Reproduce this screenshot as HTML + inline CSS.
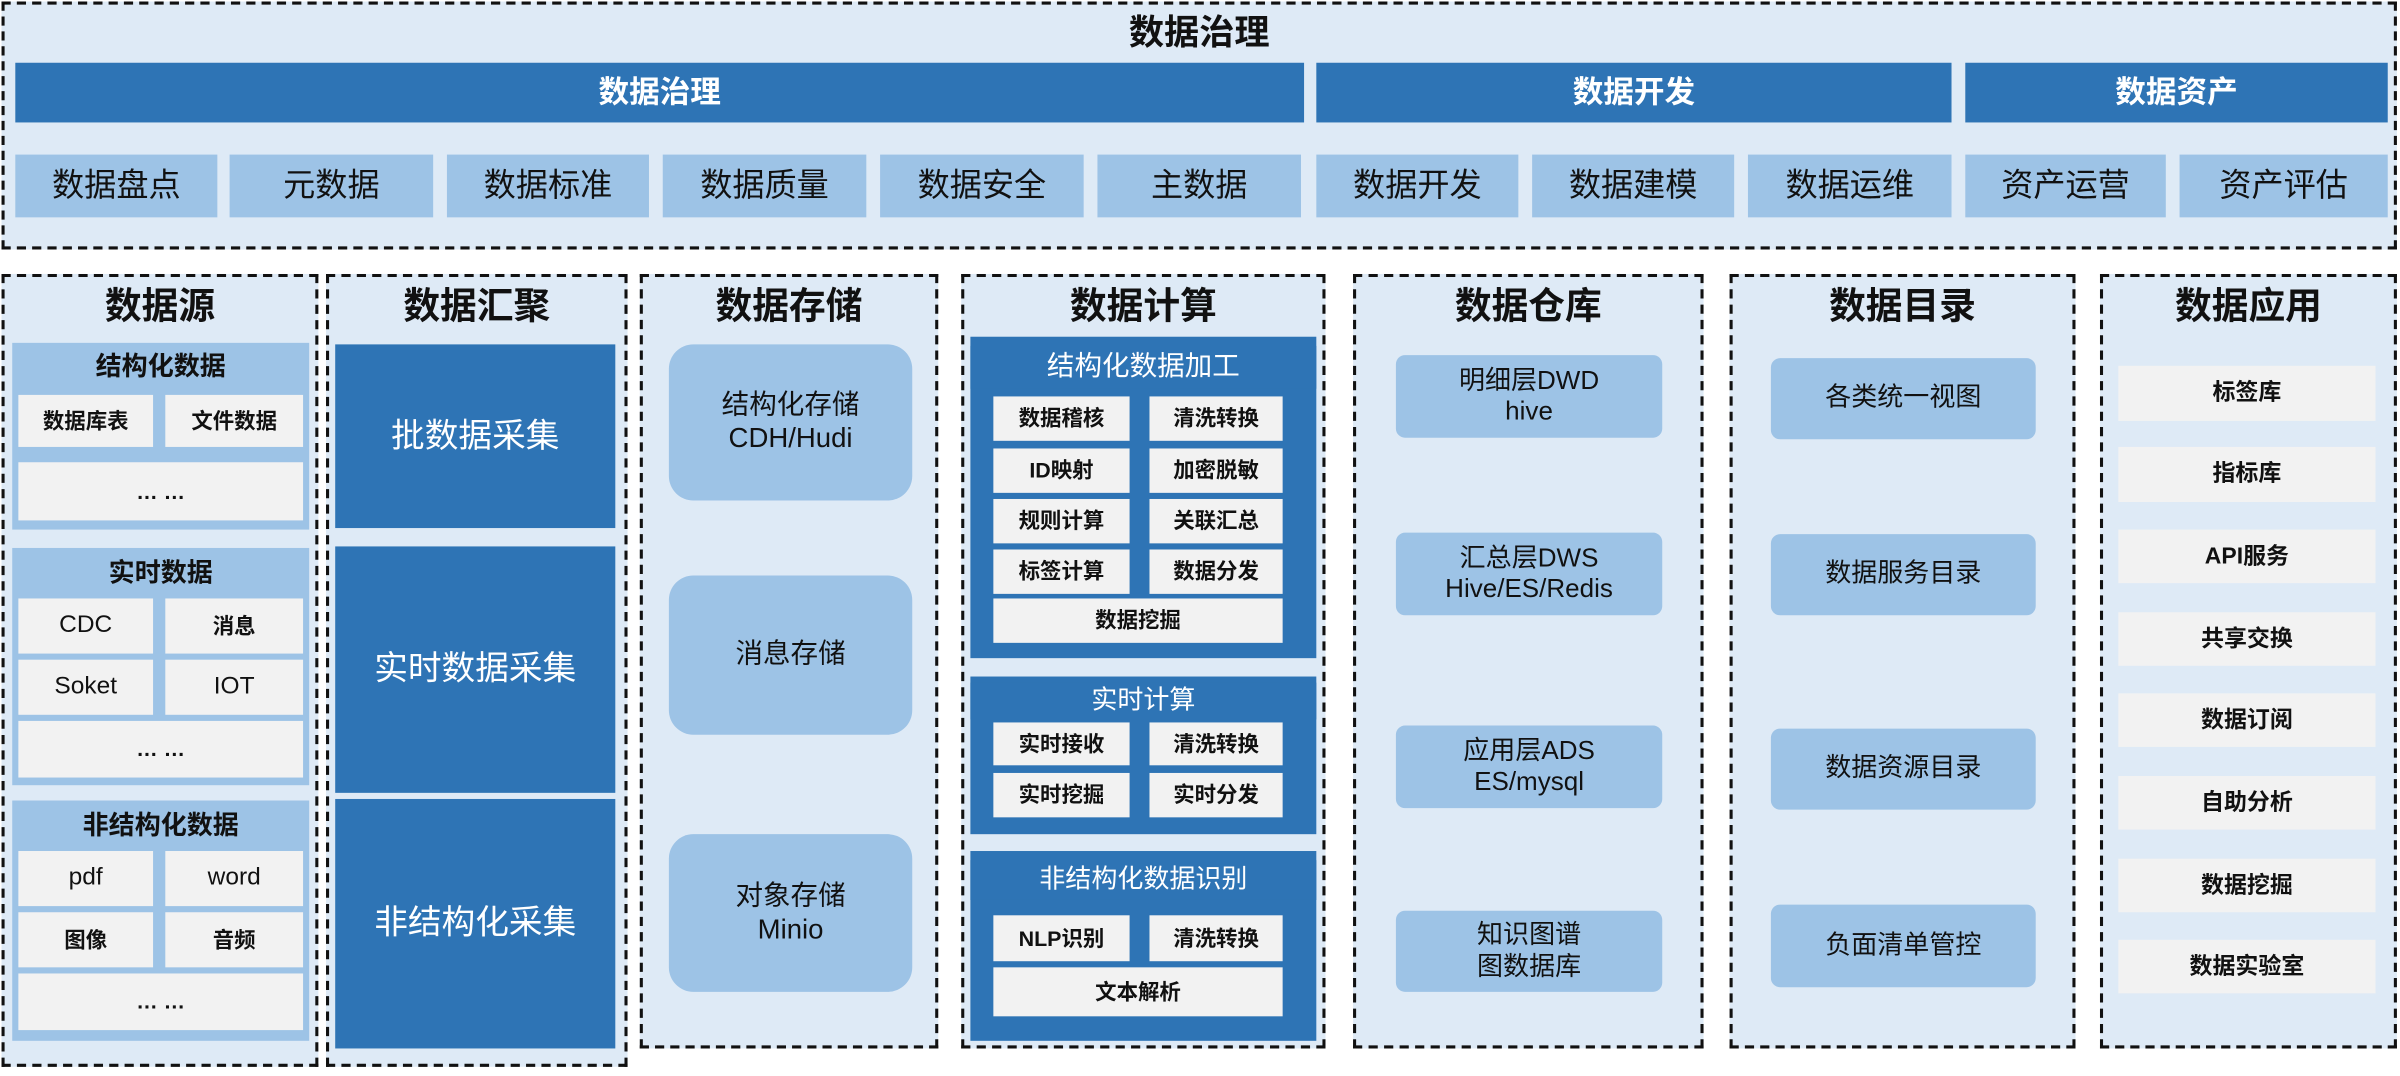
<!DOCTYPE html>
<html><head><meta charset="utf-8"><style>
*{margin:0;padding:0;box-sizing:border-box}
body{width:2400px;height:1076px;overflow:hidden;background:#fff}
#s{position:absolute;left:0;top:0;width:1568px;height:703px;transform:scale(1.5306);transform-origin:0 0;font-family:"Liberation Sans","Noto Sans CJK SC",sans-serif}
#s div{position:absolute;display:flex;align-items:center;justify-content:center;text-align:center;line-height:1.2}
.dash{border:2px dashed #111;background:#deeaf6}
.dk{background:#2e74b5;color:#fff;font-weight:bold}
.lt{background:#9dc3e6;color:#111}
.gr{background:#f2f2f2;color:#111;font-weight:bold;font-size:14px}
.t{font-weight:bold;color:#111}
</style></head><body><div id="s">
<div class="dash" style="left:1px;top:1px;width:1565px;height:162px"></div>
<div class="t" style="left:1px;top:6px;width:1565px;height:32px;font-size:23px">数据治理</div>
<div class="dk" style="left:10px;top:41px;width:842px;height:39px;font-size:20px">数据治理</div>
<div class="dk" style="left:860px;top:41px;width:415px;height:39px;font-size:20px">数据开发</div>
<div class="dk" style="left:1284px;top:41px;width:276px;height:39px;font-size:20px">数据资产</div>
<div class="lt" style="left:10px;top:101px;width:132px;height:41px;font-size:21px">数据盘点</div>
<div class="lt" style="left:150px;top:101px;width:133px;height:41px;font-size:21px">元数据</div>
<div class="lt" style="left:292px;top:101px;width:132px;height:41px;font-size:21px">数据标准</div>
<div class="lt" style="left:433px;top:101px;width:133px;height:41px;font-size:21px">数据质量</div>
<div class="lt" style="left:575px;top:101px;width:133px;height:41px;font-size:21px">数据安全</div>
<div class="lt" style="left:717px;top:101px;width:133px;height:41px;font-size:21px">主数据</div>
<div class="lt" style="left:860px;top:101px;width:132px;height:41px;font-size:21px">数据开发</div>
<div class="lt" style="left:1001px;top:101px;width:132px;height:41px;font-size:21px">数据建模</div>
<div class="lt" style="left:1142px;top:101px;width:133px;height:41px;font-size:21px">数据运维</div>
<div class="lt" style="left:1284px;top:101px;width:131px;height:41px;font-size:21px">资产运营</div>
<div class="lt" style="left:1424px;top:101px;width:136px;height:41px;font-size:21px">资产评估</div>

<!-- 数据源 -->
<div class="dash" style="left:1px;top:179px;width:207px;height:518px"></div>
<div class="t" style="left:1px;top:184px;width:207px;height:34px;font-size:24px">数据源</div>
<div class="lt" style="left:8px;top:224px;width:194px;height:122px"></div>
<div class="t" style="left:8px;top:228px;width:194px;height:24px;font-size:17px">结构化数据</div>
<div class="gr" style="left:12px;top:258px;width:88px;height:34px">数据库表</div>
<div class="gr" style="left:108px;top:258px;width:90px;height:34px">文件数据</div>
<div class="gr" style="left:12px;top:302px;width:186px;height:38px">… …</div>
<div class="lt" style="left:8px;top:358px;width:194px;height:155px"></div>
<div class="t" style="left:8px;top:362px;width:194px;height:26px;font-size:17px">实时数据</div>
<div class="gr" style="left:12px;top:391px;width:88px;height:36px;font-weight:normal;font-size:16px">CDC</div>
<div class="gr" style="left:108px;top:391px;width:90px;height:36px">消息</div>
<div class="gr" style="left:12px;top:431px;width:88px;height:36px;font-weight:normal;font-size:16px">Soket</div>
<div class="gr" style="left:108px;top:431px;width:90px;height:36px;font-weight:normal;font-size:16px">IOT</div>
<div class="gr" style="left:12px;top:471px;width:186px;height:37px">… …</div>
<div class="lt" style="left:8px;top:523px;width:194px;height:157px"></div>
<div class="t" style="left:8px;top:527px;width:194px;height:26px;font-size:17px">非结构化数据</div>
<div class="gr" style="left:12px;top:556px;width:88px;height:36px;font-weight:normal;font-size:16px">pdf</div>
<div class="gr" style="left:108px;top:556px;width:90px;height:36px;font-weight:normal;font-size:16px">word</div>
<div class="gr" style="left:12px;top:596px;width:88px;height:36px">图像</div>
<div class="gr" style="left:108px;top:596px;width:90px;height:36px">音频</div>
<div class="gr" style="left:12px;top:636px;width:186px;height:37px">… …</div>

<!-- 数据汇聚 -->
<div class="dash" style="left:213px;top:179px;width:197px;height:518px"></div>
<div class="t" style="left:213px;top:184px;width:197px;height:34px;font-size:24px">数据汇聚</div>
<div class="dk" style="left:219px;top:225px;width:183px;height:120px;font-size:22px;font-weight:normal">批数据采集</div>
<div class="dk" style="left:219px;top:357px;width:183px;height:161px;font-size:22px;font-weight:normal">实时数据采集</div>
<div class="dk" style="left:219px;top:522px;width:183px;height:163px;font-size:22px;font-weight:normal">非结构化采集</div>

<!-- 数据存储 -->
<div class="dash" style="left:418px;top:179px;width:195px;height:506px"></div>
<div class="t" style="left:418px;top:184px;width:195px;height:34px;font-size:24px">数据存储</div>
<div class="lt" style="left:437px;top:225px;width:159px;height:102px;border-radius:16px;font-size:18px">结构化存储<br>CDH/Hudi</div>
<div class="lt" style="left:437px;top:376px;width:159px;height:104px;border-radius:16px;font-size:18px">消息存储</div>
<div class="lt" style="left:437px;top:545px;width:159px;height:103px;border-radius:16px;font-size:18px">对象存储<br>Minio</div>

<!-- 数据计算 -->
<div class="dash" style="left:628px;top:179px;width:238px;height:506px"></div>
<div class="t" style="left:628px;top:184px;width:238px;height:34px;font-size:24px">数据计算</div>
<div class="dk" style="left:634px;top:220px;width:226px;height:210px"></div>
<div class="dk" style="left:634px;top:226px;width:226px;height:28px;font-size:18px;font-weight:normal">结构化数据加工</div>
<div class="gr" style="left:649px;top:259px;width:89px;height:29px">数据稽核</div>
<div class="gr" style="left:751px;top:259px;width:87px;height:29px">清洗转换</div>
<div class="gr" style="left:649px;top:293px;width:89px;height:29px">ID映射</div>
<div class="gr" style="left:751px;top:293px;width:87px;height:29px">加密脱敏</div>
<div class="gr" style="left:649px;top:326px;width:89px;height:29px">规则计算</div>
<div class="gr" style="left:751px;top:326px;width:87px;height:29px">关联汇总</div>
<div class="gr" style="left:649px;top:359px;width:89px;height:29px">标签计算</div>
<div class="gr" style="left:751px;top:359px;width:87px;height:29px">数据分发</div>
<div class="gr" style="left:649px;top:391px;width:189px;height:29px">数据挖掘</div>
<div class="dk" style="left:634px;top:442px;width:226px;height:103px"></div>
<div class="dk" style="left:634px;top:446px;width:226px;height:24px;font-size:17px;font-weight:normal">实时计算</div>
<div class="gr" style="left:649px;top:472px;width:89px;height:28px">实时接收</div>
<div class="gr" style="left:751px;top:472px;width:87px;height:28px">清洗转换</div>
<div class="gr" style="left:649px;top:505px;width:89px;height:29px">实时挖掘</div>
<div class="gr" style="left:751px;top:505px;width:87px;height:29px">实时分发</div>
<div class="dk" style="left:634px;top:556px;width:226px;height:124px"></div>
<div class="dk" style="left:634px;top:562px;width:226px;height:26px;font-size:17px;font-weight:normal">非结构化数据识别</div>
<div class="gr" style="left:649px;top:598px;width:89px;height:30px">NLP识别</div>
<div class="gr" style="left:751px;top:598px;width:87px;height:30px">清洗转换</div>
<div class="gr" style="left:649px;top:632px;width:189px;height:32px">文本解析</div>

<!-- 数据仓库 -->
<div class="dash" style="left:884px;top:179px;width:229px;height:506px"></div>
<div class="t" style="left:884px;top:184px;width:229px;height:34px;font-size:24px">数据仓库</div>
<div class="lt" style="left:912px;top:232px;width:174px;height:54px;border-radius:6px;font-size:17px">明细层DWD<br>hive</div>
<div class="lt" style="left:912px;top:348px;width:174px;height:54px;border-radius:6px;font-size:17px">汇总层DWS<br>Hive/ES/Redis</div>
<div class="lt" style="left:912px;top:474px;width:174px;height:54px;border-radius:6px;font-size:17px">应用层ADS<br>ES/mysql</div>
<div class="lt" style="left:912px;top:595px;width:174px;height:53px;border-radius:6px;font-size:17px">知识图谱<br>图数据库</div>

<!-- 数据目录 -->
<div class="dash" style="left:1130px;top:179px;width:226px;height:506px"></div>
<div class="t" style="left:1130px;top:184px;width:226px;height:34px;font-size:24px">数据目录</div>
<div class="lt" style="left:1157px;top:234px;width:173px;height:53px;border-radius:6px;font-size:17px">各类统一视图</div>
<div class="lt" style="left:1157px;top:349px;width:173px;height:53px;border-radius:6px;font-size:17px">数据服务目录</div>
<div class="lt" style="left:1157px;top:476px;width:173px;height:53px;border-radius:6px;font-size:17px">数据资源目录</div>
<div class="lt" style="left:1157px;top:591px;width:173px;height:54px;border-radius:6px;font-size:17px">负面清单管控</div>

<!-- 数据应用 -->
<div class="dash" style="left:1372px;top:179px;width:194px;height:506px"></div>
<div class="t" style="left:1372px;top:184px;width:194px;height:34px;font-size:24px">数据应用</div>
<div class="gr" style="left:1384px;top:239px;width:168px;height:36px;font-size:15px">标签库</div>
<div class="gr" style="left:1384px;top:292px;width:168px;height:36px;font-size:15px">指标库</div>
<div class="gr" style="left:1384px;top:346px;width:168px;height:35px;font-size:15px">API服务</div>
<div class="gr" style="left:1384px;top:400px;width:168px;height:35px;font-size:15px">共享交换</div>
<div class="gr" style="left:1384px;top:453px;width:168px;height:35px;font-size:15px">数据订阅</div>
<div class="gr" style="left:1384px;top:507px;width:168px;height:35px;font-size:15px">自助分析</div>
<div class="gr" style="left:1384px;top:561px;width:168px;height:35px;font-size:15px">数据挖掘</div>
<div class="gr" style="left:1384px;top:614px;width:168px;height:35px;font-size:15px">数据实验室</div>
</div></body></html>
